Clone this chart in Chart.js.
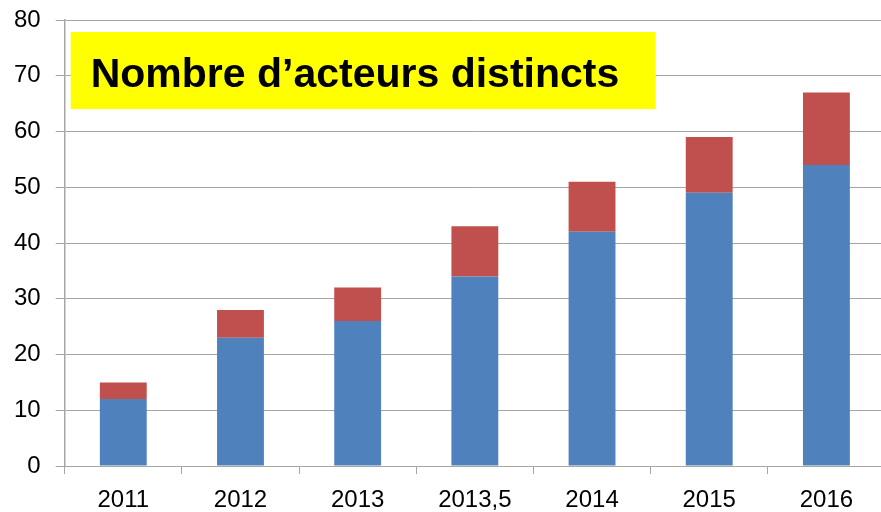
<!DOCTYPE html>
<html>
<head>
<meta charset="utf-8">
<script src="https://cdn.jsdelivr.net/npm/chart.js@4"></script>
<style>
  html, body { margin: 0; padding: 0; background: #fff; overflow: hidden; }
  body { width: 881px; height: 512px; position: relative; }
  #wrap { position: absolute; left: -1px; top: -7px; width: 886px; height: 531px; }
</style>
</head>
<body>
<div id="wrap"><canvas id="acteurs-chart"></canvas></div>
<script>
// data
const years = ["2011", "2012", "2013", "2013,5", "2014", "2015", "2016"];
const blueValues = [12, 23, 26, 34, 42, 49, 54];
const redValues = [3, 5, 6, 9, 9, 10, 13];
const yTicks = [0, 10, 20, 30, 40, 50, 60, 70, 80];
const titleText = "Nombre d\u2019acteurs distincts";

const gridColor = "#a6a6a6";
const labelFont = { family: "'Liberation Sans', Arial, sans-serif", size: 24, lineHeight: 1 };

// yellow title box sitting inside the plot area
const titleBox = {
    id: "titleBox",
    afterDatasetsDraw(chart) {
        const ctx = chart.ctx;
        const area = chart.chartArea;
        const x = area.left + 6;
        const y = area.top + 12;
        const w = 585;
        const h = 77;
        ctx.save();
        ctx.fillStyle = "#ffff00";
        ctx.fillRect(x, y, w, h);
        ctx.fillStyle = "#000";
        ctx.font = "bold 41px 'Liberation Sans Narrow', 'Liberation Sans', Arial, sans-serif";
        ctx.textBaseline = "alphabetic";
        ctx.fillText(titleText, x + 20, y + 55, 535);
        ctx.restore();
    }
};

const ctx = document.getElementById("acteurs-chart").getContext("2d");
new Chart(ctx, {
    type: "bar",
    data: {
        labels: years,
        datasets: [
            { data: blueValues, backgroundColor: "#4f81bd", borderWidth: 0 },
            { data: redValues, backgroundColor: "#c0504d", borderWidth: 0 }
        ]
    },
    options: {
        responsive: true,
        maintainAspectRatio: false,
        animation: false,
        layout: { padding: { top: -2, right: 0, bottom: -2, left: 0 } },
        plugins: {
            legend: { display: false },
            tooltip: { enabled: false }
        },
        datasets: {
            bar: { barPercentage: 0.4, categoryPercentage: 1 }
        },
        scales: {
            x: {
                stacked: true,
                grid: {
                    offset: true,
                    drawOnChartArea: false,
                    drawTicks: true,
                    tickLength: 8,
                    color: gridColor
                },
                border: { color: gridColor, width: 1 },
                ticks: { color: "#000", font: labelFont, padding: 14, maxRotation: 0 }
            },
            y: {
                stacked: true,
                min: 0,
                max: 80,
                afterBuildTicks(axis) {
                    axis.ticks = yTicks.map(v => ({ value: v }));
                },
                grid: {
                    color: gridColor,
                    drawTicks: true,
                    tickLength: 9
                },
                border: { color: gridColor, width: 1.5 },
                ticks: { color: "#000", font: labelFont, padding: 15 }
            }
        }
    },
    plugins: [titleBox]
});
</script>
</body>
</html>
